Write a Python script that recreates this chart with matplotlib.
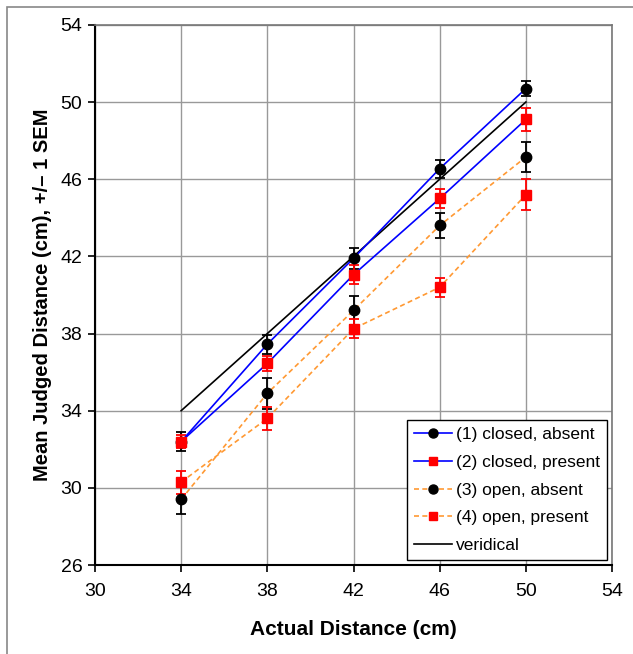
import matplotlib
matplotlib.use("Agg")
import matplotlib.pyplot as plt
from matplotlib.patches import Rectangle
from matplotlib.lines import Line2D

plt.rcParams["font.family"] = ["Liberation Sans", "DejaVu Sans"]

# actual distances (cm)
actual = [34, 38, 42, 46, 50]

# mean judged distance and SEM per condition
closed_absent = [32.4, 37.45, 41.9, 46.55, 50.7]
closed_absent_sem = [0.5, 0.5, 0.55, 0.47, 0.4]
closed_present = [32.4, 36.45, 41.05, 45.0, 49.1]
closed_present_sem = [0.35, 0.4, 0.5, 0.5, 0.6]
open_absent = [29.4, 34.9, 39.2, 43.6, 47.15]
open_absent_sem = [0.75, 0.8, 0.75, 0.65, 0.8]
open_present = [30.3, 33.6, 38.25, 40.4, 45.2]
open_present_sem = [0.6, 0.6, 0.5, 0.5, 0.8]

veridical_x = [34, 50]
veridical_y = [34, 50]

ticks = [30, 34, 38, 42, 46, 50, 54]
yticks = [26, 30, 34, 38, 42, 46, 50, 54]

ORANGE = "#FF9933"


def main():
    fig = plt.figure(figsize=(6.33, 6.54), dpi=100)
    ax = fig.add_axes([0.150, 0.136, 0.817, 0.826])

    # outer chart border
    fig.patches.append(Rectangle((7 / 633, -0.05), 1.1, 1 - 7 / 654 + 0.05,
                                 transform=fig.transFigure, fill=False,
                                 edgecolor="#888888", linewidth=1.2))

    series = [
        (closed_absent, closed_absent_sem, "blue", "-", "o", "black", "(1) closed, absent"),
        (closed_present, closed_present_sem, "blue", "-", "s", "red", "(2) closed, present"),
        (open_absent, open_absent_sem, ORANGE, (0, (3, 2)), "o", "black", "(3) open, absent"),
        (open_present, open_present_sem, ORANGE, (0, (3, 2)), "s", "red", "(4) open, present"),
    ]
    handles = []
    for y, err, lc, ls, mk, mc, lab in series:
        ms = 7.5 if mk == "o" else 7
        ax.errorbar(actual, y, yerr=err, color=lc, linestyle=ls, linewidth=1.2,
                    marker=mk, markersize=ms,
                    markerfacecolor=mc, markeredgecolor=mc,
                    ecolor=mc, elinewidth=1.3, capsize=3.5, capthick=1.3,
                    zorder=3)
        handles.append(Line2D([], [], color=lc, linestyle=ls, linewidth=1.2,
                              marker=mk, markersize=ms - 1, markerfacecolor=mc,
                              markeredgecolor=mc, label=lab))

    ax.plot(veridical_x, veridical_y, color="black", linewidth=1.2, zorder=2)
    handles.append(Line2D([], [], color="black", linewidth=1.2, label="veridical"))

    ax.set_xlim(30, 54)
    ax.set_ylim(26, 54)
    ax.set_xticks(ticks)
    ax.set_yticks(yticks)
    ax.grid(True, color="#999999", linewidth=1.0)
    ax.set_axisbelow(True)
    ax.tick_params(labelsize=14, direction="out", length=5, width=1.2,
                   colors="black", pad=4)
    ax.tick_params(axis="x", pad=8)

    for side in ["top", "right"]:
        ax.spines[side].set_color("#777777")
        ax.spines[side].set_linewidth(1.2)
    for side in ["left", "bottom"]:
        ax.spines[side].set_color("black")
        ax.spines[side].set_linewidth(1.5)

    ax.set_xlabel("Actual Distance (cm)", fontsize=15, fontweight="bold", labelpad=14)
    ax.set_ylabel("Mean Judged Distance (cm), +/\u2013 1 SEM", fontsize=14.5,
                  fontweight="bold", labelpad=6)

    leg = ax.legend(handles=handles, loc="lower right", fontsize=12.5, frameon=True,
                    fancybox=False, edgecolor="black", framealpha=1,
                    borderaxespad=0.3, handlelength=2.2, handletextpad=0.2,
                    labelspacing=0.72, borderpad=0.4)
    leg.get_frame().set_linewidth(1.0)

    fig.savefig("out.png", dpi=100)


if __name__ == "__main__":
    main()
